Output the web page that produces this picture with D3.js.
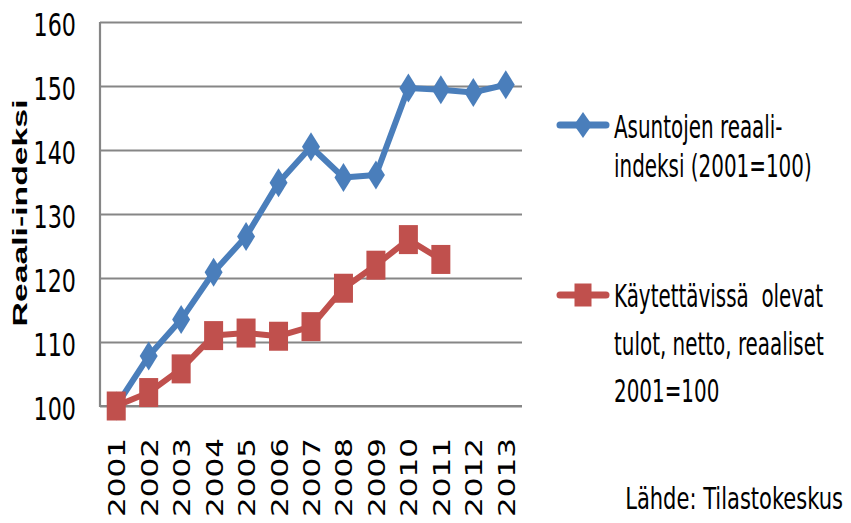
<!DOCTYPE html>
<html>
<head>
<meta charset="utf-8">
<script src="https://cdn.jsdelivr.net/npm/d3@7"></script>
<style>
  body { margin: 0; background: #fff; }
  svg { display: block; }
</style>
</head>
<body>
<div id="canvas"></div>
<script>
// data
const years = ["2001","2002","2003","2004","2005","2006","2007","2008","2009","2010","2011","2012","2013"];
const housingIndex = [100, 107.8, 113.5, 120.9, 126.5, 134.9, 140.5, 135.7, 136.1, 149.7, 149.4, 149.0, 150.2];
const incomeIndex = [100, 102.1, 105.8, 111.0, 111.4, 110.9, 112.4, 118.4, 122.0, 126.0, 122.9];
const yTicks = [100, 110, 120, 130, 140, 150, 160];
const seriesNames = [
  ["Asuntojen reaali-", "indeksi (2001=100)"],
  ["Käytettävissä  olevat", "tulot, netto, reaaliset", "2001=100"]
];
const yTitle = "Reaali-indeksi";
const source = "Lähde: Tilastokeskus";

const width = 851, height = 523;
const plot = {left: 100, right: 522, top: 22, bottom: 406};
const blue = "#4a7ebb", red = "#c0504d", grid = "#868686";
const narrow = "'Liberation Sans Narrow', 'DejaVu Sans Condensed', 'Liberation Sans', sans-serif";

let svg = d3.select("#canvas").append("svg")
    .attr("width", width)
    .attr("height", height);

let xScale = d3.scaleBand()
    .domain(years)
    .range([plot.left, plot.right]);
let yScale = d3.scaleLinear()
    .domain([100, 160])
    .range([plot.bottom, plot.top]);
let cx = d => xScale(d) + xScale.bandwidth() / 2;

// gridlines
let yAxis = svg.append("g")
    .attr("transform", "translate(" + plot.left + ",0)")
    .call(d3.axisLeft(yScale).tickValues(yTicks).tickSize(-(plot.right - plot.left)).tickFormat(""));
yAxis.selectAll("line").attr("stroke", grid).attr("stroke-width", 2.2);
yAxis.select(".domain").remove();

// left axis line
svg.append("line")
    .attr("x1", plot.left).attr("x2", plot.left)
    .attr("y1", yScale(160)).attr("y2", yScale(100) + 1)
    .attr("stroke", grid).attr("stroke-width", 2.2);

// y tick labels (stretched condensed text)
svg.append("g").selectAll("text")
    .data(yTicks)
    .enter().append("text")
    .attr("transform", d => "translate(76," + (yScale(d) + 14) + ") scale(0.95,1.2)")
    .attr("text-anchor", "end")
    .attr("font-family", narrow)
    .attr("font-size", "26px")
    .attr("fill", "#000")
    .text(d => d);

// x tick labels, rotated
svg.append("g").selectAll("text")
    .data(years)
    .enter().append("text")
    .attr("transform", d => "translate(" + (cx(d) + 9) + ",438) rotate(-90)")
    .attr("text-anchor", "end")
    .attr("font-family", "'DejaVu Sans', Verdana, sans-serif")
    .attr("font-size", "23px")
    .attr("textLength", 79)
    .attr("lengthAdjust", "spacingAndGlyphs")
    .attr("fill", "#000")
    .text(d => d);

// y title
svg.append("text")
    .attr("transform", "translate(27,213) rotate(-90)")
    .attr("text-anchor", "middle")
    .attr("font-family", "'Liberation Sans', Arial, sans-serif")
    .attr("font-weight", "bold")
    .attr("font-size", "20px")
    .attr("textLength", 227)
    .attr("lengthAdjust", "spacingAndGlyphs")
    .text(yTitle);

let line = d3.line()
    .x((d, i) => cx(years[i]))
    .y(d => yScale(d));

let diamond = (w, h) => "M0," + (-h / 2) + "L" + (w / 2) + ",0L0," + (h / 2) + "L" + (-w / 2) + ",0Z";

// blue series
svg.append("path")
    .attr("d", line(housingIndex))
    .attr("fill", "none")
    .attr("stroke", blue)
    .attr("stroke-width", 6)
    .attr("stroke-linejoin", "round");
svg.append("g").selectAll("path")
    .data(housingIndex)
    .enter().append("path")
    .attr("transform", (d, i) => "translate(" + cx(years[i]) + "," + yScale(d) + ")")
    .attr("d", diamond(18, 29))
    .attr("fill", blue);

// red series
svg.append("path")
    .attr("d", line(incomeIndex))
    .attr("fill", "none")
    .attr("stroke", red)
    .attr("stroke-width", 6)
    .attr("stroke-linejoin", "round");
svg.append("g").selectAll("rect")
    .data(incomeIndex)
    .enter().append("rect")
    .attr("x", (d, i) => cx(years[i]) - 9.5)
    .attr("y", d => yScale(d) - 14.5)
    .attr("width", 19)
    .attr("height", 29)
    .attr("fill", red);

// bottom axis line
svg.append("line")
    .attr("x1", plot.left).attr("x2", plot.right)
    .attr("y1", plot.bottom).attr("y2", plot.bottom)
    .attr("stroke", grid).attr("stroke-width", 2.2)
    .lower();

// legend
let legend = svg.append("g");
legend.append("line")
    .attr("x1", 560).attr("x2", 606).attr("y1", 125).attr("y2", 125)
    .attr("stroke", blue).attr("stroke-width", 7).attr("stroke-linecap", "round");
legend.append("path")
    .attr("transform", "translate(583,125)")
    .attr("d", diamond(18, 26))
    .attr("fill", blue);
legend.append("line")
    .attr("x1", 560).attr("x2", 606).attr("y1", 295).attr("y2", 295)
    .attr("stroke", red).attr("stroke-width", 7).attr("stroke-linecap", "round");
legend.append("rect")
    .attr("x", 574.5).attr("y", 283.5).attr("width", 17).attr("height", 23)
    .attr("fill", red);

let legendRows = [
  {lines: seriesNames[0], y0: 138, step: 39},
  {lines: seriesNames[1], y0: 307, step: 47.5}
];
legendRows.forEach(r => {
  r.lines.forEach((t, i) => {
    legend.append("text")
      .attr("transform", "translate(614," + (r.y0 + i * r.step) + ") scale(0.82,1.18)")
      .attr("font-family", narrow)
      .attr("font-size", "27px")
      .attr("fill", "#000")
      .style("white-space", "pre")
      .text(t);
  });
});

// source
svg.append("text")
    .attr("transform", "translate(843,509) scale(0.9,1.15)")
    .attr("text-anchor", "end")
    .attr("font-family", narrow)
    .attr("font-size", "26px")
    .attr("fill", "#000")
    .text(source);
</script>
</body>
</html>
